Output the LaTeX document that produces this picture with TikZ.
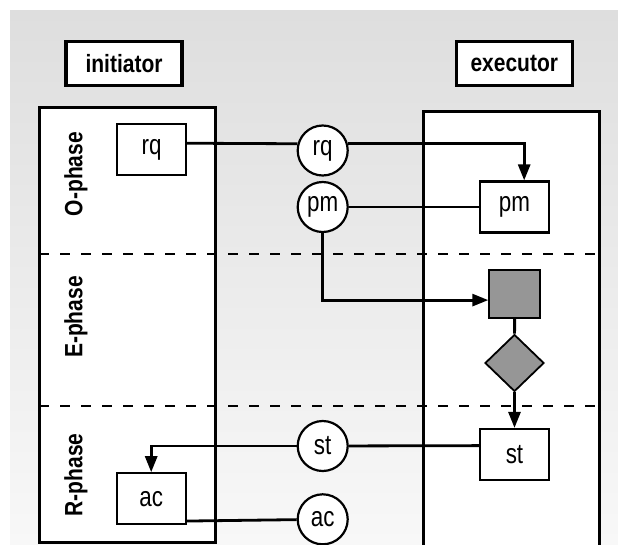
\documentclass[tikz,border=0pt]{standalone}
\usepackage{fontspec}
\setmainfont{Liberation Sans}[FakeStretch=0.8]
\newfontfamily\headfont{Liberation Sans}[FakeStretch=0.84]
\usetikzlibrary{arrows.meta,shapes.geometric}
\definecolor{bgtop}{HTML}{DEDEDE}
\definecolor{bgbot}{HTML}{F8F8F8}
\definecolor{execgray}{HTML}{969696}

\begin{document}
\begin{tikzpicture}[x=1pt,y=-1pt,>={Triangle[length=16pt,width=12pt]},
  lane/.style={draw,line width=3pt,fill=white},
  actor/.style={draw,line width=3.2pt,fill=white,inner sep=0pt,
    minimum width=116pt,minimum height=44pt,
    font=\headfont\bfseries\fontsize{25}{28}\selectfont},
  act/.style={draw,line width=2.2pt,fill=white,inner sep=0pt,
    minimum width=69pt,minimum height=51pt,font=\fontsize{28}{30}\selectfont},
  fact/.style={circle,draw,line width=2.2pt,fill=white,inner sep=0pt,
    minimum size=50pt,font=\fontsize{28}{30}\selectfont},
  phase/.style={rotate=90,font=\headfont\bfseries\fontsize{25}{28}\selectfont},
  sepline/.style={line width=2.8pt,dash pattern=on 10pt off 11pt},
  flow/.style={line width=2.8pt}]
  \useasboundingbox (0,0) rectangle (618,544);
  \clip (0,0) rectangle (618,544);
  \shade[top color=bgtop,bottom color=bgbot] (10,10) rectangle (618,544);

  % lanes
  \draw[lane] (39,107) rectangle (215,542);
  \draw[lane] (423,111) rectangle (599,560);
  \draw[sepline] (39,254) -- (602,254);
  \draw[sepline] (39,406) -- (602,406);

  \node[actor] (initLbl) at (124,63.5) {initiator};
  \node[actor] (execLbl) at (514.3,63.5) {executor};

  \node[phase] (oPhase) at (76,174) {O-phase};
  \node[phase] (ePhase) at (76,317) {E-phase};
  \node[phase] (rPhase) at (76,475) {R-phase};

  % acts and facts
  \node[act] (rqI) at (151.5,149.5) {rq};
  \node[fact] (rqC) at (322.7,150.5) {rq};
  \node[fact] (pmC) at (322.7,207) {pm};
  \node[act] (pmE) at (514.5,207) {pm};
  \node[draw,line width=1.8pt,fill=execgray,minimum width=51pt,minimum height=48pt,inner sep=0pt] (actE) at (514.7,294) {};
  \node[diamond,draw,line width=1.8pt,fill=execgray,minimum width=59pt,minimum height=57pt,inner sep=0pt] (decE) at (514.5,363) {};
  \node[act] (stE) at (514.5,454.5) {st};
  \node[fact] (stC) at (322.7,446) {st};
  \node[act] (acI) at (151.2,498.8) {ac};
  \node[fact] (acC) at (322.7,519.3) {ac};

  \draw[flow] (rqI.10) -- (rqC.165);
  \draw[flow,->] (rqC.15) -| (pmE.70);
  \draw[flow] (pmC) -- (pmE);
  \draw[flow,->] (pmC.south) |- (actE.193);
  \draw[flow] (actE) -- (decE);
  \draw[flow,->] (decE) -- (stE);
  \draw[flow] (stE.166) -- (stC);
  \draw[flow,->] (stC) -| (acI.north);
  \draw[flow] (acI.-32) -- (acC);
\end{tikzpicture}
\end{document}
